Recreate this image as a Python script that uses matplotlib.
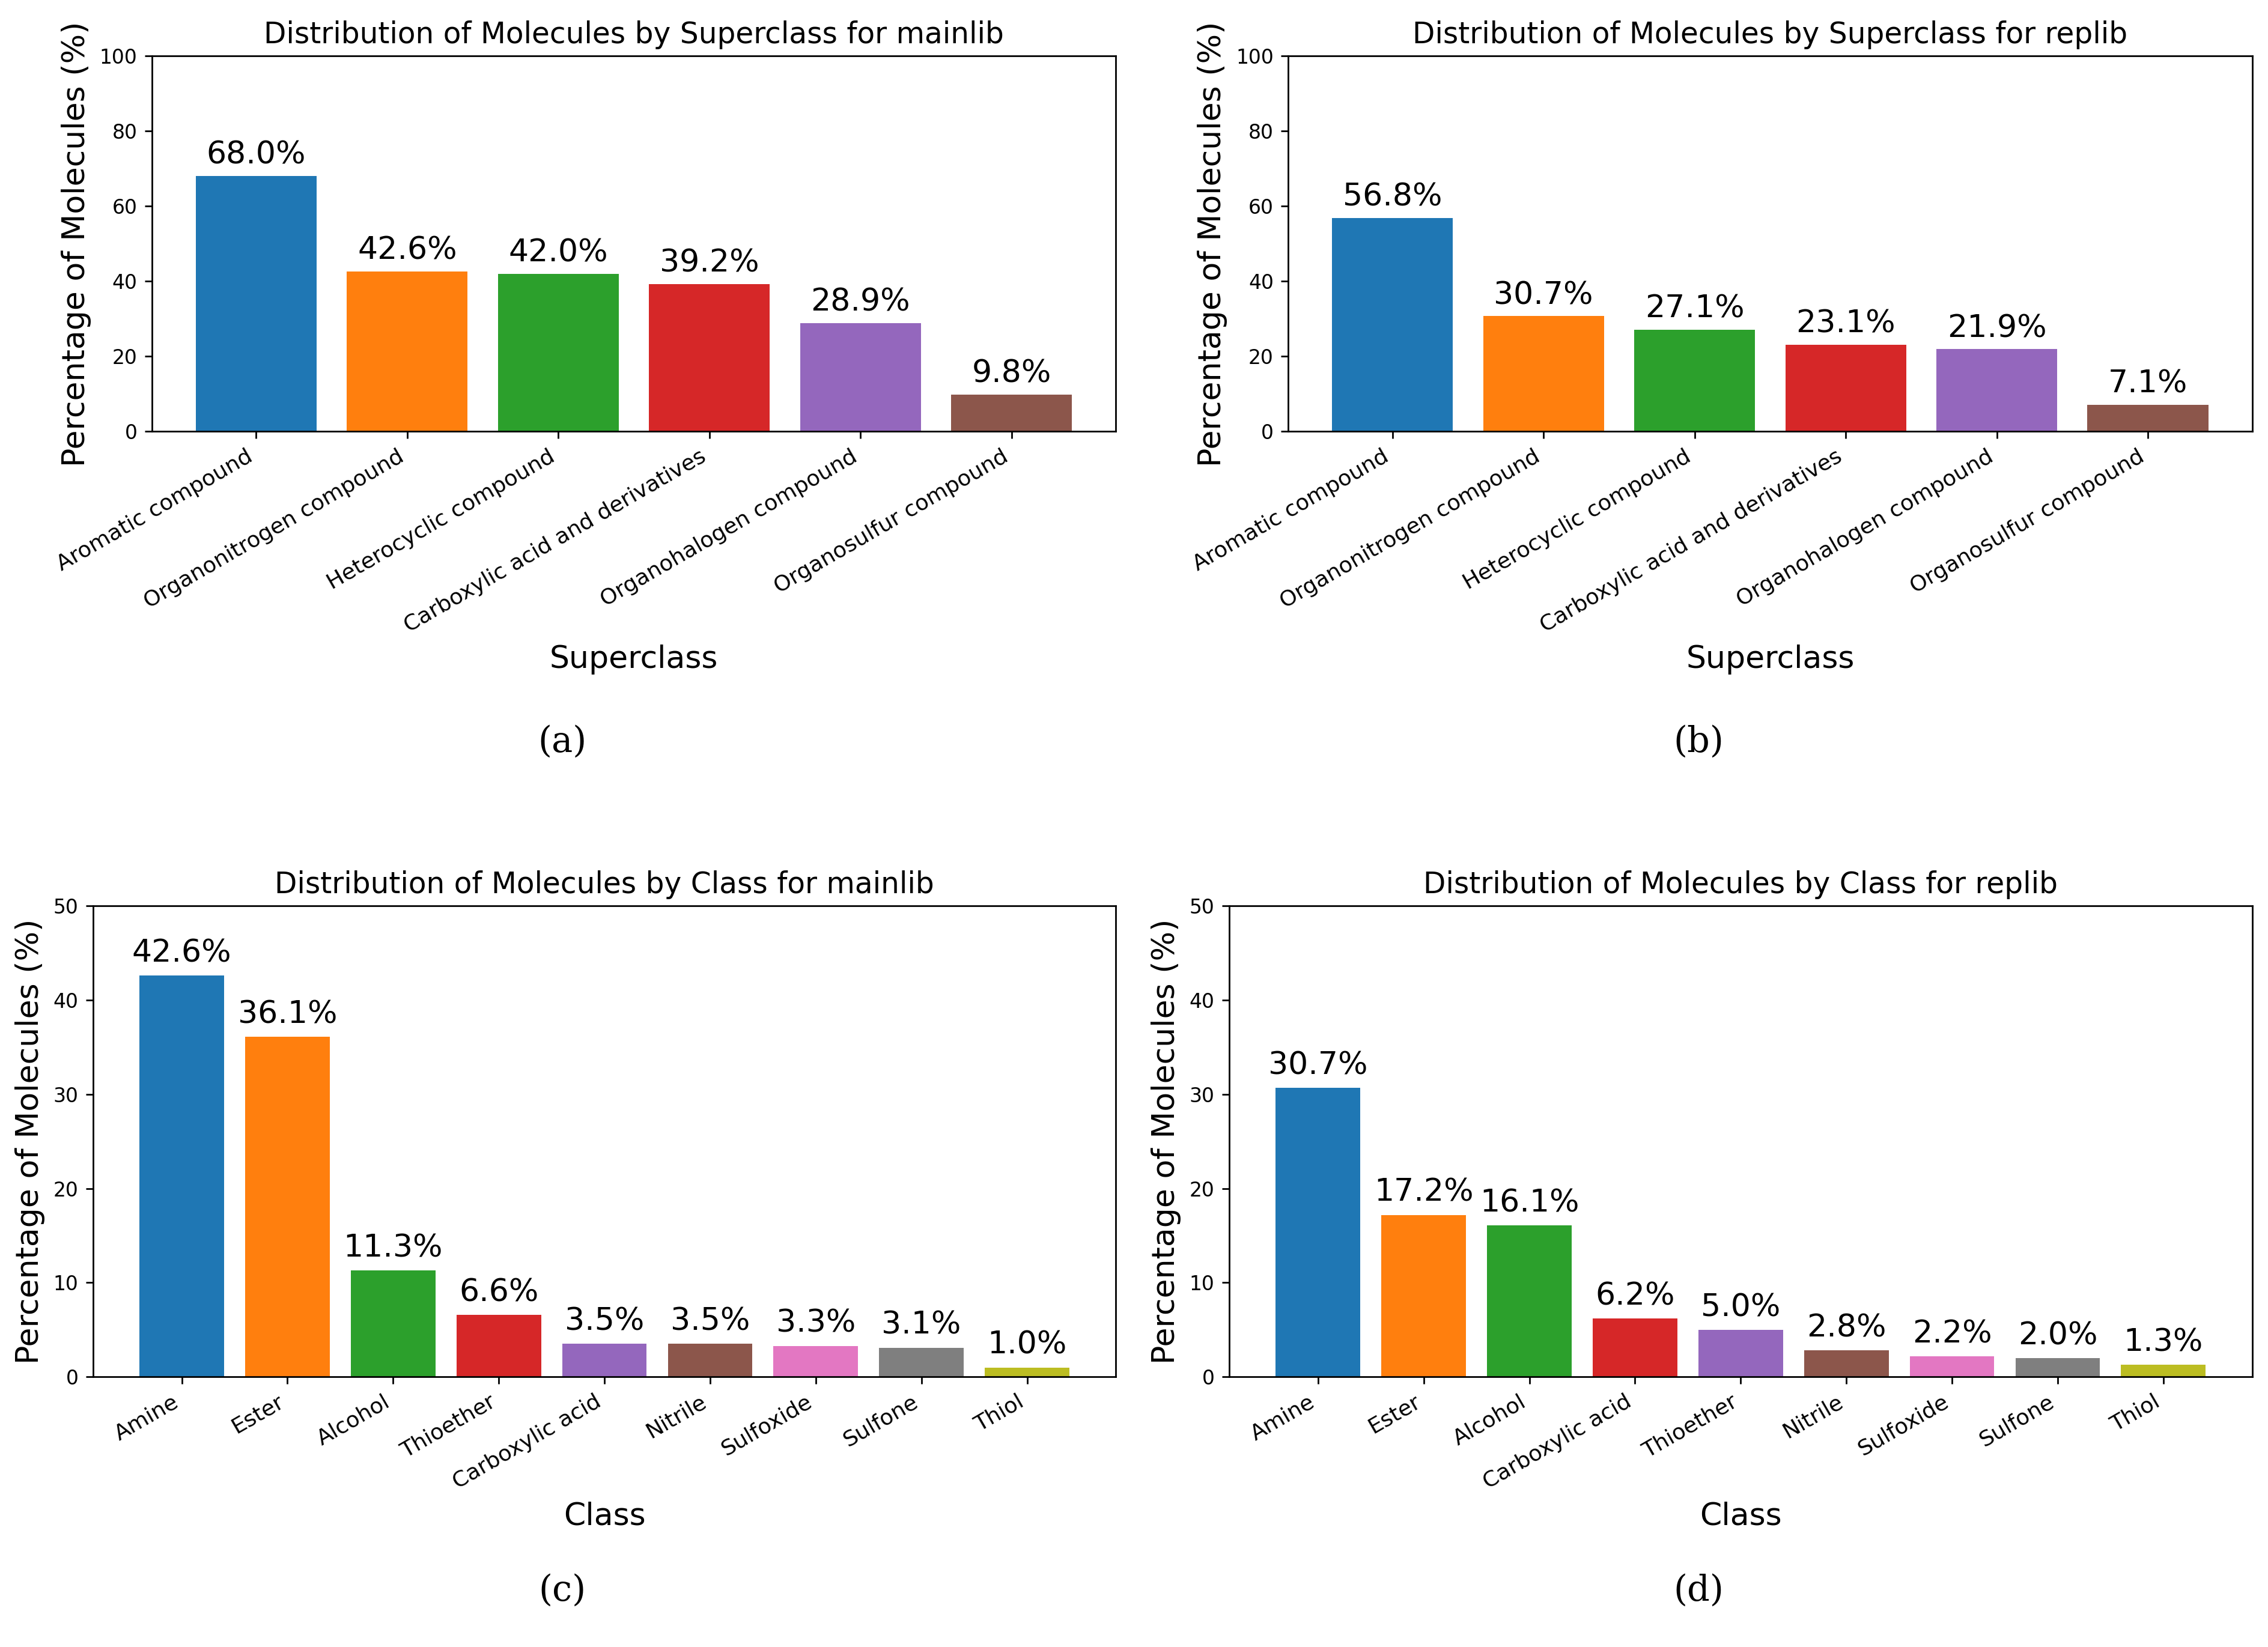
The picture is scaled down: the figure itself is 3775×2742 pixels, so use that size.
import matplotlib.pyplot as plt

colors = ['#1f77b4', '#ff7f0e', '#2ca02c', '#d62728', '#9467bd', '#8c564b', '#e377c2', '#7f7f7f', '#bcbd22']

super_names = ['Aromatic compound', 'Organonitrogen compound', 'Heterocyclic compound',
               'Carboxylic acid and derivatives', 'Organohalogen compound', 'Organosulfur compound']
super_main = [68.0, 42.6, 42.0, 39.2, 28.9, 9.8]
super_rep = [56.8, 30.7, 27.1, 23.1, 21.9, 7.1]

class_main_names = ['Amine', 'Ester', 'Alcohol', 'Thioether', 'Carboxylic acid', 'Nitrile', 'Sulfoxide', 'Sulfone', 'Thiol']
class_main = [42.6, 36.1, 11.3, 6.6, 3.5, 3.5, 3.3, 3.1, 1.0]
class_rep_names = ['Amine', 'Ester', 'Alcohol', 'Carboxylic acid', 'Thioether', 'Nitrile', 'Sulfoxide', 'Sulfone', 'Thiol']
class_rep = [30.7, 17.2, 16.1, 6.2, 5.0, 2.8, 2.2, 2.0, 1.3]

fig = plt.figure(figsize=(15.1, 10.968), dpi=250)

panels = [
    ([0.067, 0.738, 0.425, 0.228], super_names, super_main, 'Superclass', 'mainlib', 100, (0.248, 0.539), '(a)'),
    ([0.568, 0.738, 0.425, 0.228], super_names, super_rep, 'Superclass', 'replib', 100, (0.749, 0.539), '(b)'),
    ([0.041, 0.164, 0.451, 0.286], class_main_names, class_main, 'Class', 'mainlib', 50, (0.248, 0.024), '(c)'),
    ([0.542, 0.164, 0.451, 0.286], class_rep_names, class_rep, 'Class', 'replib', 50, (0.749, 0.024), '(d)'),
]

for rect, names, vals, kind, lib, ymax, cap, tag in panels:
    ax = fig.add_axes(rect)
    x = range(len(names))
    bars = ax.bar(x, vals, color=colors[:len(names)])
    for b, v in zip(bars, vals):
        ax.text(b.get_x() + b.get_width() / 2, v + ymax * 0.015, f'{v:.1f}%',
                ha='center', va='bottom', fontsize=15)
    ax.set_ylim(0, ymax)
    ax.set_xticks(list(x))
    ax.set_xticklabels(names, rotation=30, ha='right', fontsize=10.5)
    ax.tick_params(axis='y', labelsize=9.5)
    ax.set_xlabel(kind, fontsize=15)
    ax.set_ylabel('Percentage of Molecules (%)', fontsize=15)
    ax.set_title(f'Distribution of Molecules by {kind} for {lib}', fontsize=14)
    fig.text(cap[0], cap[1], tag, ha='center', va='bottom', fontsize=17, family='DejaVu Serif')

fig.savefig('out.png', dpi=250)
